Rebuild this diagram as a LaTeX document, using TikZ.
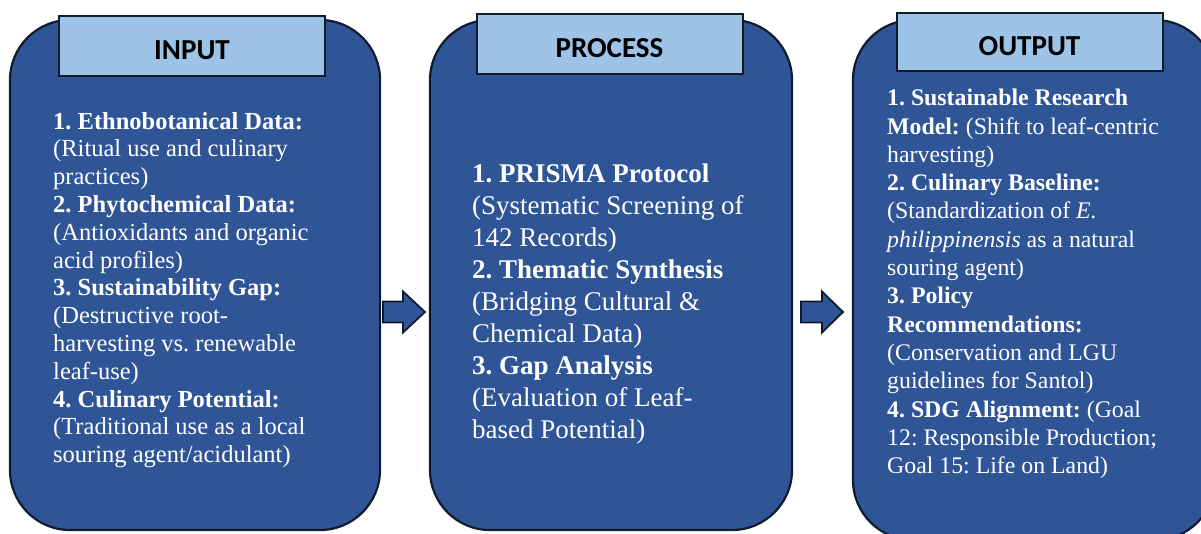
\documentclass[tikz,border=0pt]{standalone}
\usepackage{fontspec}
\setmainfont{Liberation Serif}
\newfontfamily\titlefont{Carlito}
\usepackage{tikz}
\usetikzlibrary{arrows.meta,calc,positioning}
\definecolor{ipo-blue}{HTML}{2F5597}
\definecolor{ipo-light}{HTML}{9DC3E6}
\definecolor{ipo-edge}{HTML}{101C2E}
\frenchspacing

\begin{document}
\begin{tikzpicture}[x=1pt,y=-1pt,
  bigbox/.style={draw=ipo-edge,line width=2.2pt,fill=ipo-blue,rounded corners=60pt},
  titlebox/.style={draw=ipo-edge,line width=2pt,fill=ipo-light,minimum width=266pt,
    minimum height=60pt,inner sep=0pt,text height=27pt,text depth=0pt,
    font=\titlefont\bfseries\fontsize{29}{32}\selectfont},
  bodytext/.style={text=white,align=left,inner sep=0pt,anchor=west},
  blockarrow/.style={draw=ipo-edge,line width=1.8pt,fill=ipo-blue,line join=miter}]
  \useasboundingbox (0,0) rectangle (1201,534);
  \clip (0,0) rectangle (1201,534);

  % Store bokse
  \node[bigbox,minimum width=370pt,minimum height=510pt] (inbox) at (195,275) {};
  \node[bigbox,minimum width=362pt,minimum height=510pt] (procbox) at (611,275) {};
  \node[bigbox,minimum width=362pt,minimum height=520pt] (outbox) at (1034,280) {};

  % Overskrifter
  \node[titlebox] (intitle) at (192,46.5) {INPUT};
  \node[titlebox] (proctitle) at (609.5,44.5) {PROCESS};
  \node[titlebox,minimum height=58pt] (outtitle) at (1029.5,42) {OUTPUT};

  % Tekst
  \node[bodytext,font=\fontsize{24.5}{27.8}\selectfont] (intext) at (53,290) {%
    \textbf{1. Ethnobotanical Data:}\\
    (Ritual use and culinary\\
    practices)\\
    \textbf{2. Phytochemical Data:}\\
    (Antioxidants and organic\\
    acid profiles)\\
    \textbf{3. Sustainability Gap:}\\
    (Destructive root-\\
    harvesting vs. renewable\\
    leaf-use)\\
    \textbf{4. Culinary Potential:}\\
    (Traditional use as a local\\
    souring agent/acidulant)};
  \node[bodytext,font=\fontsize{27}{32}\selectfont] (proctext) at (472,304) {%
    \textbf{1. PRISMA Protocol}\\
    (Systematic Screening of\\
    142 Records)\\
    \textbf{2. Thematic Synthesis}\\
    (Bridging Cultural \&\\
    Chemical Data)\\
    \textbf{3. Gap Analysis}\\
    (Evaluation of Leaf-\\
    based Potential)};
  \node[bodytext,font=\fontsize{23.8}{28.3}\selectfont] (outtext) at (887,284) {%
    \textbf{1. Sustainable Research}\\
    \textbf{Model:} (Shift to leaf-centric\\
    harvesting)\\
    \textbf{2. Culinary Baseline:}\\
    (Standardization of \textit{E.}\\
    \textit{philippinensis} as a natural\\
    souring agent)\\
    \textbf{3. Policy}\\
    \textbf{Recommendations:}\\
    (Conservation and LGU\\
    guidelines for Santol)\\
    \textbf{4. SDG Alignment:} (Goal\\
    12: Responsible Production;\\
    Goal 15: Life on Land)};

  % Pile
  \coordinate (arrA) at (383,312);
  \coordinate (arrB) at (801,312);
  \draw[blockarrow] (arrA) ++(0,-10.5) -- ++(20,0) -- ++(0,-10) -- ++(22,20.5)
    -- ++(-22,20.5) -- ++(0,-10) -- ++(-20,0) -- cycle;
  \draw[blockarrow] (arrB) ++(0,-10.5) -- ++(21,0) -- ++(0,-10) -- ++(21,20.5)
    -- ++(-21,20.5) -- ++(0,-10) -- ++(-21,0) -- cycle;
\end{tikzpicture}
\end{document}
